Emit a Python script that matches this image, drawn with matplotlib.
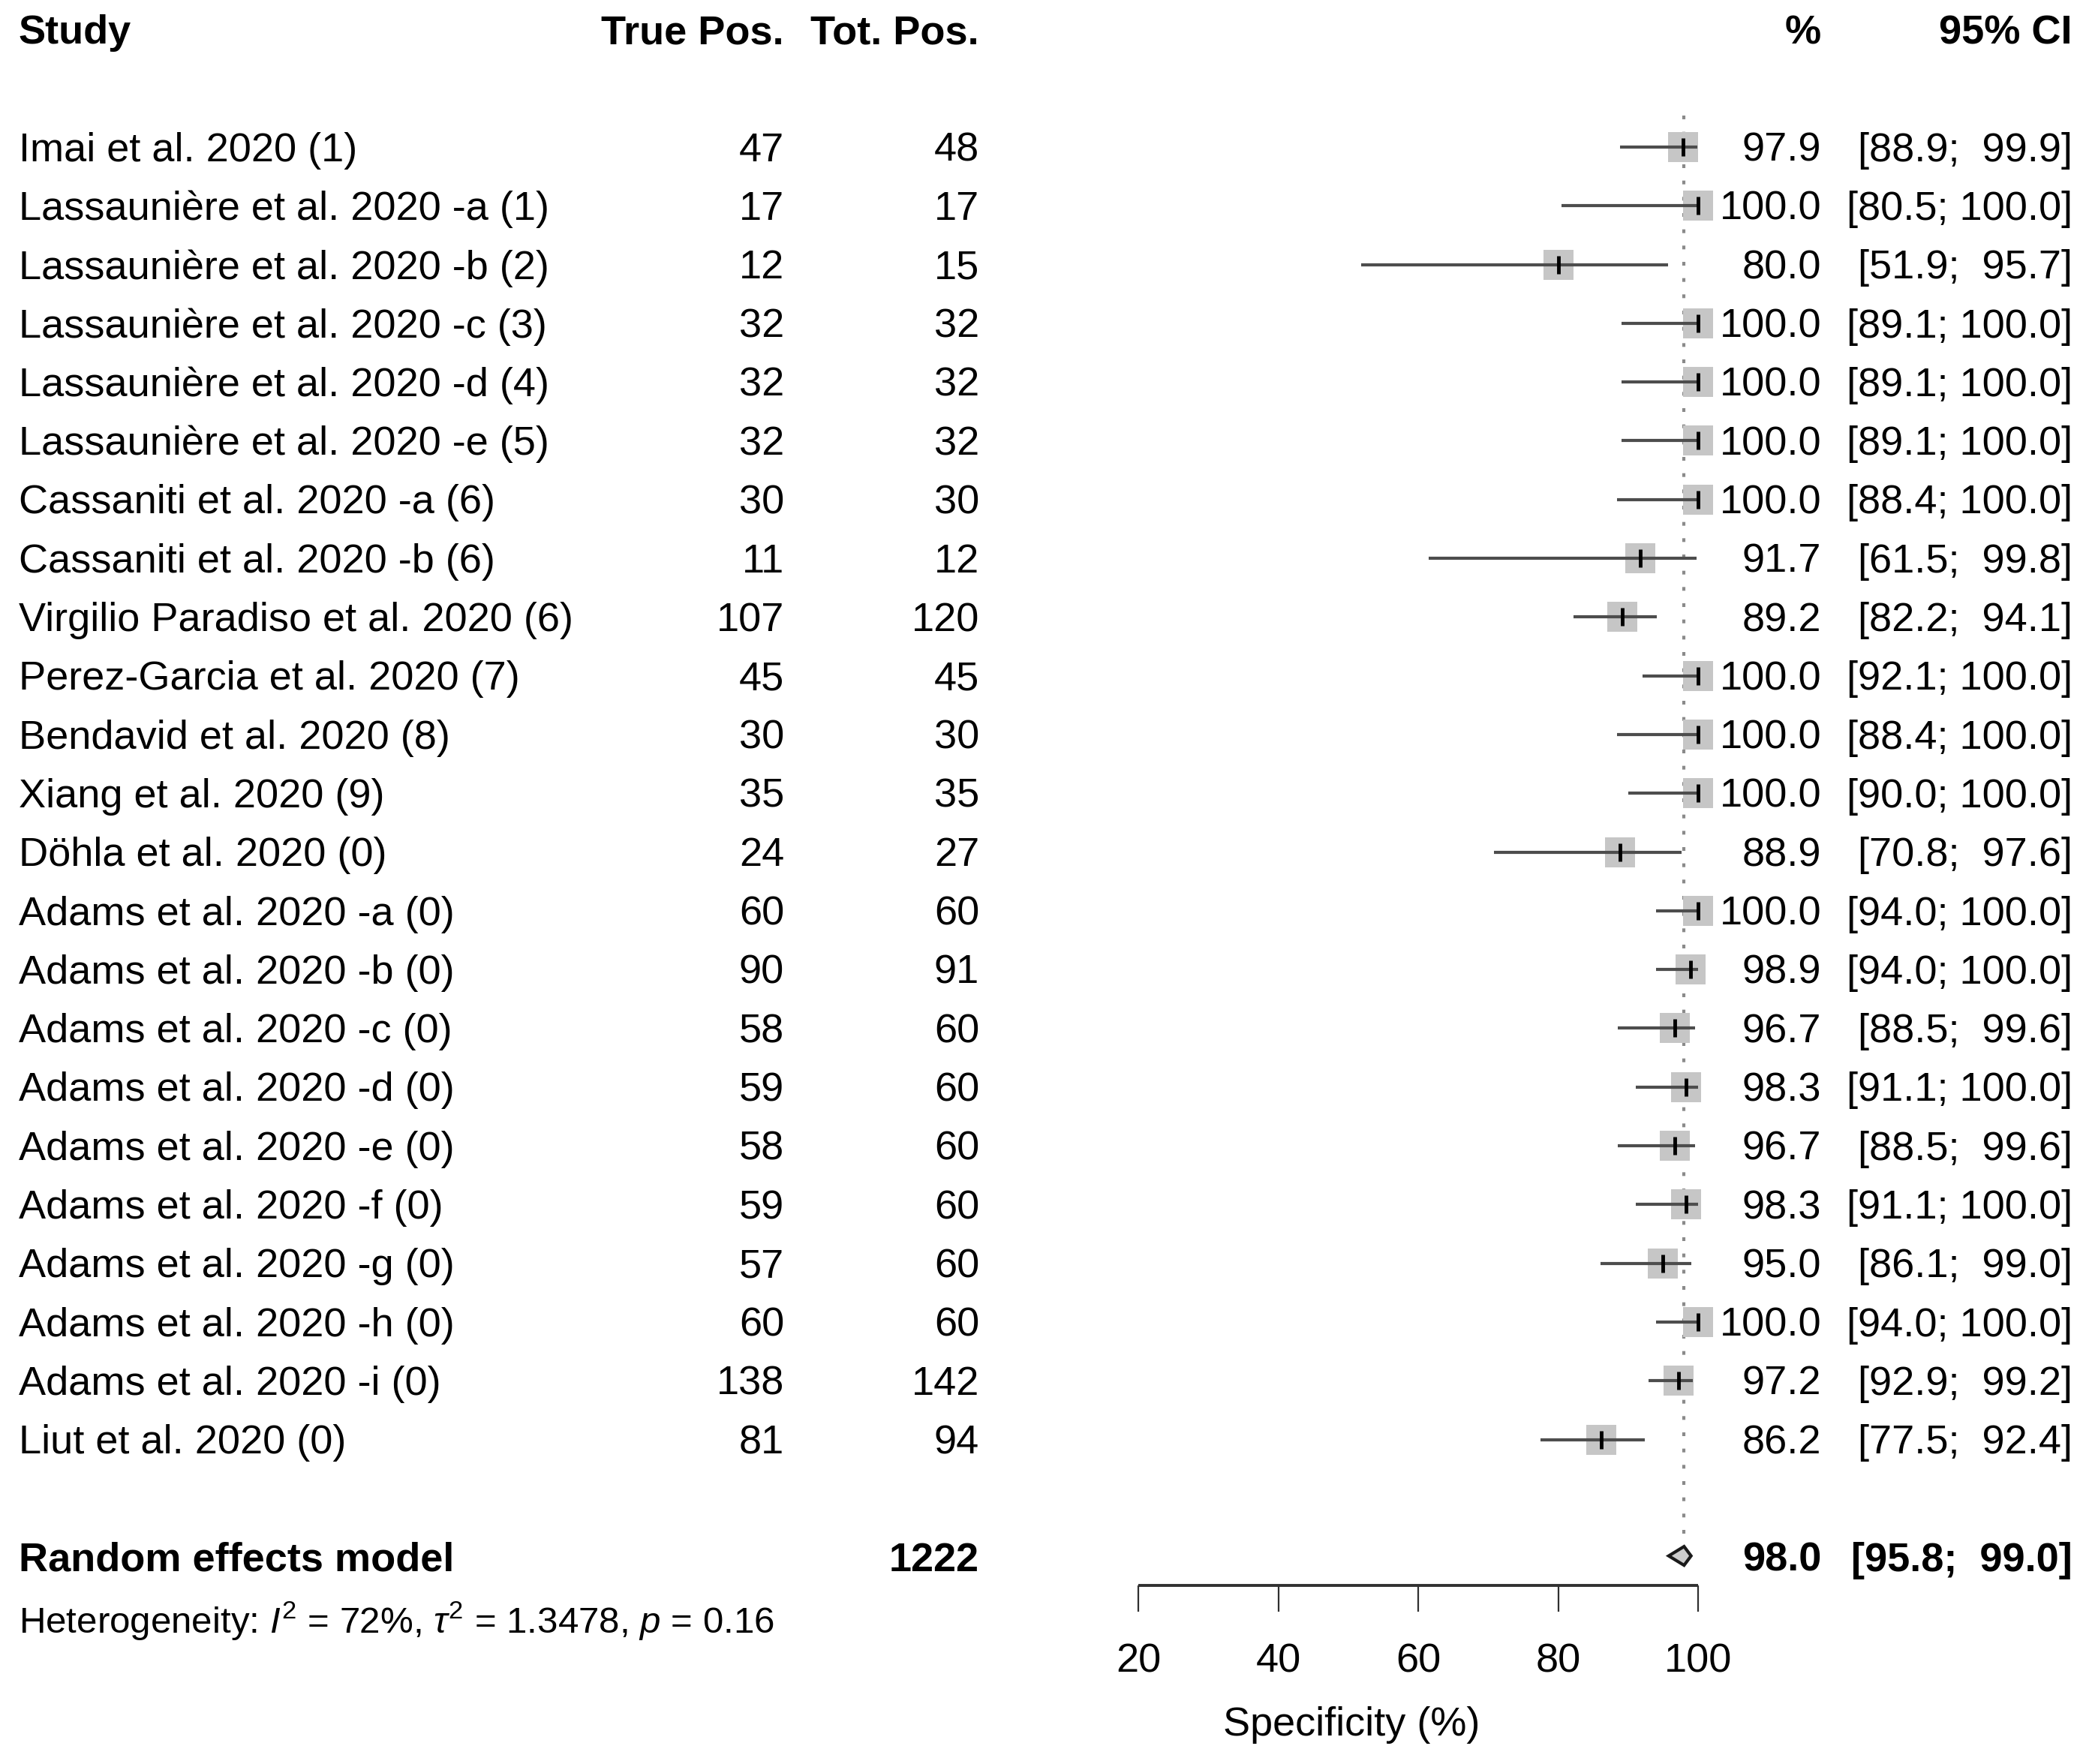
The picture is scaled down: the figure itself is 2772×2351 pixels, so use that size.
import numpy as np
import matplotlib
matplotlib.use("Agg")
import matplotlib.pyplot as plt
from matplotlib.transforms import blended_transform_factory

plt.rcParams['font.family'] = ['Liberation Sans', 'DejaVu Sans']
plt.rcParams['mathtext.fontset'] = 'custom'
plt.rcParams['mathtext.rm'] = 'Liberation Sans'
plt.rcParams['mathtext.it'] = 'Liberation Sans:italic'

# data
studies = ["Imai et al. 2020 (1)", "Lassaunière et al. 2020 -a (1)",
           "Lassaunière et al. 2020 -b (2)", "Lassaunière et al. 2020 -c (3)",
           "Lassaunière et al. 2020 -d (4)", "Lassaunière et al. 2020 -e (5)",
           "Cassaniti et al. 2020 -a (6)", "Cassaniti et al. 2020 -b (6)",
           "Virgilio Paradiso et al. 2020 (6)", "Perez-Garcia et al. 2020 (7)",
           "Bendavid et al. 2020 (8)", "Xiang et al. 2020 (9)",
           "Döhla et al. 2020 (0)", "Adams et al. 2020 -a (0)",
           "Adams et al. 2020 -b (0)", "Adams et al. 2020 -c (0)",
           "Adams et al. 2020 -d (0)", "Adams et al. 2020 -e (0)",
           "Adams et al. 2020 -f (0)", "Adams et al. 2020 -g (0)",
           "Adams et al. 2020 -h (0)", "Adams et al. 2020 -i (0)",
           "Liut et al. 2020 (0)"]
true_pos = [47, 17, 12, 32, 32, 32, 30, 11, 107, 45, 30, 35, 24, 60, 90, 58, 59, 58, 59, 57, 60, 138, 81]
tot_pos = [48, 17, 15, 32, 32, 32, 30, 12, 120, 45, 30, 35, 27, 60, 91, 60, 60, 60, 60, 60, 60, 142, 94]
spec = [97.9, 100.0, 80.0, 100.0, 100.0, 100.0, 100.0, 91.7, 89.2, 100.0, 100.0, 100.0,
        88.9, 100.0, 98.9, 96.7, 98.3, 96.7, 98.3, 95.0, 100.0, 97.2, 86.2]
lower = [88.9, 80.5, 51.9, 89.1, 89.1, 89.1, 88.4, 61.5, 82.2, 92.1, 88.4, 90.0,
         70.8, 94.0, 94.0, 88.5, 91.1, 88.5, 91.1, 86.1, 94.0, 92.9, 77.5]
upper = [99.9, 100.0, 95.7, 100.0, 100.0, 100.0, 100.0, 99.8, 94.1, 100.0, 100.0, 100.0,
         97.6, 100.0, 100.0, 99.6, 100.0, 99.6, 100.0, 99.0, 100.0, 99.2, 92.4]
pooled = 98.0
pooled_lo = 95.8
pooled_hi = 99.0
total_n = 1222
het_text = r"Heterogeneity: $I^2$ = 72%, $\tau^2$ = 1.3478, $p$ = 0.16"
ticks = [20, 40, 60, 80, 100]

W, H = 2772, 2351
fig = plt.figure(figsize=(W / 100, H / 100), dpi=100)
ax = fig.add_axes([0, 0, 1, 1])
ax.axis('off')

# pixel layout -> data limits
ppu = (2263 - 1517) / 80.0   # pixels per % unit
x0 = 20 - 1517 / ppu
ax.set_xlim(x0, x0 + W / ppu)
row_h = 78.3
ax.set_ylim((H - 196) / row_h, -196 / row_h)

fs = 39
dy = 0.06  # small nudge so text sits on the row centre like the original
tr = blended_transform_factory(fig.transFigure, ax.transData)
cx = {'study': 25 / W, 'tp': 1045 / W, 'tot': 1305 / W, 'pct': 2427 / W, 'ci': 2762 / W}


def put(col, y, s, ha, **kw):
    ax.text(cx[col], y + dy, s, transform=tr, ha=ha, va='center', fontsize=kw.pop('fontsize', fs), **kw)


# header
hy = -2.0
put('study', hy, "Study", 'left', fontweight='bold')
put('tp', hy, "True Pos.", 'right', fontweight='bold')
put('tot', hy, "Tot. Pos.", 'right', fontweight='bold')
put('pct', hy, "%", 'right', fontweight='bold')
put('ci', hy, "95% CI", 'right', fontweight='bold')

rows = np.arange(len(studies))


def fmt_ci(lo, hi):
    return "[%.1f; %s]" % (lo, ("%.1f" % hi).rjust(5))


for i, r in enumerate(rows):
    put('study', r, studies[i], 'left')
    put('tp', r, str(true_pos[i]), 'right')
    put('tot', r, str(tot_pos[i]), 'right')
    put('pct', r, "%.1f" % spec[i], 'right')
    put('ci', r, fmt_ci(lower[i], upper[i]), 'right')

# reference line at pooled estimate
ax.vlines(pooled, -0.54, 23.75, colors='#8a8a8a', lw=3, linestyles=(0, (1.2, 4)), zorder=1)

# study boxes, CIs, point ticks
ax.scatter(spec, rows, marker='s', s=830, color='#c6c6c6', linewidths=0, zorder=2)
ax.hlines(rows, lower, upper, colors='#4d4d4d', lw=3, zorder=3)
ax.plot(spec, rows, linestyle='none', marker='|', ms=17, mew=3.5, color='black', zorder=4)

# pooled row
py = 23.98
ax.fill([pooled_lo, pooled, pooled_hi, pooled], [py, py - 0.16, py, py + 0.16],
        facecolor='#cccccc', edgecolor='#1a1a1a', lw=3, zorder=3)
put('study', 24, "Random effects model", 'left', fontweight='bold')
put('tot', 24, str(total_n), 'right', fontweight='bold')
put('pct', 24, "%.1f" % pooled, 'right', fontweight='bold')
put('ci', 24, fmt_ci(pooled_lo, pooled_hi), 'right', fontweight='bold')
put('study', 25.02, het_text, 'left', fontsize=fs * 0.91)

# x axis
ay = 24.48
ax.hlines(ay, ticks[0], ticks[-1], colors='#303030', lw=2.8)
ax.vlines(ticks, ay, ay + 0.45, colors='#303030', lw=1.6)
for t in ticks:
    ax.text(t, 25.72 + dy, str(t), ha='center', va='center', fontsize=fs)
ax.text(50.5, 26.8 + dy, "Specificity (%)", ha='center', va='center', fontsize=fs)

fig.savefig("out.png", dpi=100, facecolor='white')
